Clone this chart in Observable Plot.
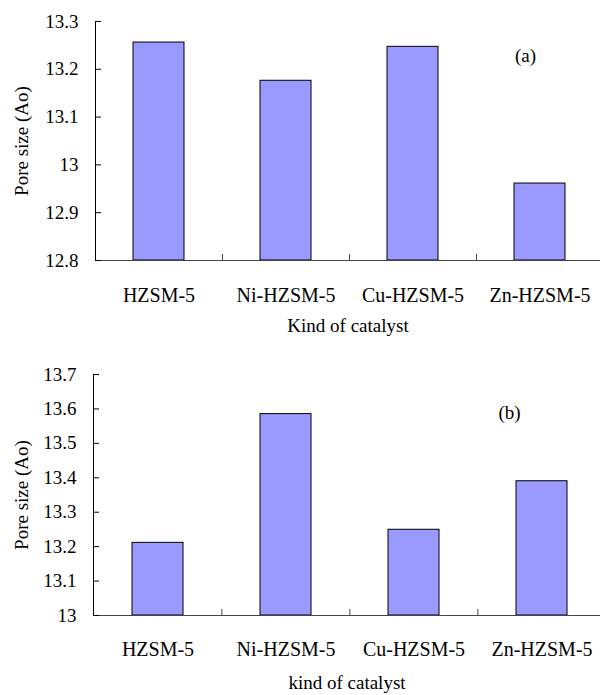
<!DOCTYPE html>
<html>
<head>
<meta charset="utf-8">
<script src="https://cdn.jsdelivr.net/npm/d3@7"></script>
<script src="https://cdn.jsdelivr.net/npm/@observablehq/plot@0.6"></script>
<style>
  html, body { margin: 0; padding: 0; background: #fff; }
  #chart svg { display: block; }
</style>
</head>
<body>
<div id="chart"></div>
<script>
// ---- data ----
const categories = ["HZSM-5", "Ni-HZSM-5", "Cu-HZSM-5", "Zn-HZSM-5"];
const poreSizeA = [13.256, 13.176, 13.247, 12.961];
const poreSizeB = [13.211, 13.585, 13.249, 13.390];
const yTicksA = [12.8, 12.9, 13.0, 13.1, 13.2, 13.3];
const yTicksB = [13.0, 13.1, 13.2, 13.3, 13.4, 13.5, 13.6, 13.7];
const yTitle = "Pore size (Ao)";
const xTitleA = "Kind of catalyst";
const xTitleB = "kind of catalyst";
const panelA = "(a)";
const panelB = "(b)";

const FONT = "Liberation Serif";
const W = 600;

function makeChart({values, ticks, height, marginTop, marginBottom, left, right,
                    xTitle, panel, panelDx, panelDy, titleDx, xTitleDy, tickPad}) {
  const data = categories.map((c, i) => ({cat: c, val: values[i]}));
  const step = (right - left) / categories.length;
  const frameW = W - left;
  const frameH = height - marginTop - marginBottom;
  const fmt = d => String(+d.toFixed(1));
  const txt = {fontSize: 19, fontFamily: FONT, textAnchor: "middle", lineAnchor: "middle"};
  return Plot.plot({
    width: W,
    height,
    marginTop,
    marginBottom,
    marginLeft: left,
    marginRight: 0,
    style: {fontFamily: FONT, fontSize: "19px", color: "black", background: "white", overflow: "visible"},
    x: {domain: categories, range: [left, right], paddingInner: 0.6, paddingOuter: 0.3},
    y: {domain: [ticks[0], ticks[ticks.length - 1]]},
    marks: [
      Plot.barY(data, {x: "cat", y1: ticks[0], y2: "val", fill: "#9999ff", stroke: "black", strokeWidth: 1}),
      Plot.ruleY([ticks[0]], {stroke: "#444", strokeWidth: 1}),
      Plot.frame({anchor: "left", stroke: "black", strokeWidth: 1}),
      Plot.tickY(ticks, {y: d => d, stroke: "black", insetRight: frameW - 6}),
      Plot.tickX(categories.slice(1), {x: d => d, dx: -step / 2, stroke: "#444", insetTop: frameH - 6}),
      Plot.axisY({ticks, tickSize: 0, tickPadding: 17, tickFormat: fmt, label: null, fontSize: 19, fontFamily: FONT}),
      Plot.axisX({tickSize: 0, tickPadding: tickPad, label: null, fontSize: 20, fontFamily: FONT}),
      Plot.text([yTitle], {...txt, text: d => d, frameAnchor: "left", rotate: -90, dx: titleDx}),
      Plot.text([xTitle], {...txt, text: d => d, frameAnchor: "bottom", dy: xTitleDy}),
      Plot.text([panel], {...txt, text: d => d, frameAnchor: "top-right", dx: panelDx, dy: panelDy})
    ]
  });
}

const chartA = makeChart({
  values: poreSizeA, ticks: yTicksA, height: 340, marginTop: 21, marginBottom: 80,
  left: 95, right: 603, xTitle: xTitleA, panel: panelA, panelDx: -75, panelDy: 34,
  titleDx: -74, xTitleDy: 65, tickPad: 27
});
const chartB = makeChart({
  values: poreSizeB, ticks: yTicksB, height: 355, marginTop: 34, marginBottom: 80,
  left: 93, right: 606, xTitle: xTitleB, panel: panelB, panelDx: -91, panelDy: 38,
  titleDx: -72, xTitleDy: 67, tickPad: 26
});
document.getElementById("chart").append(chartA, chartB);
</script>
</body>
</html>
